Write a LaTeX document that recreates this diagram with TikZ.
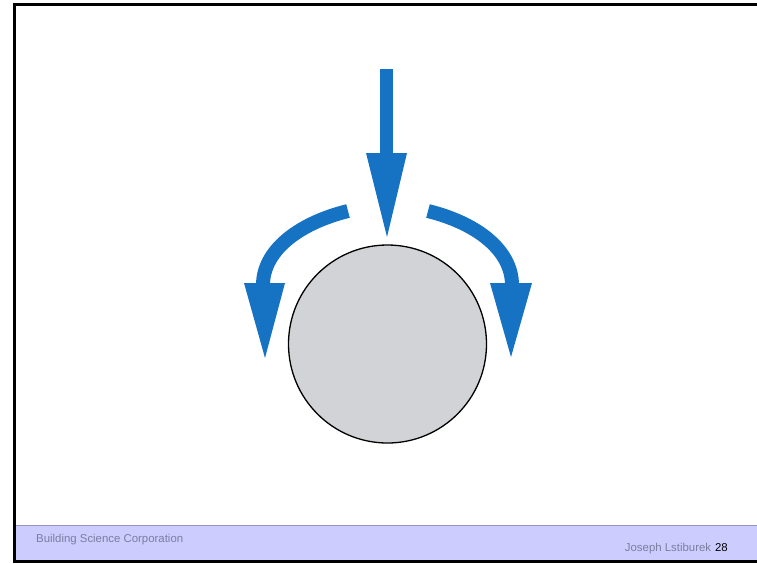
\documentclass[tikz,border=0pt]{standalone}
\usepackage{fontspec}
\setmainfont{Liberation Sans}
\definecolor{flowblue}{RGB}{22,114,194}
\definecolor{ballgray}{RGB}{209,211,214}
\definecolor{bandfill}{RGB}{204,204,255}
\definecolor{bandline}{RGB}{150,150,200}
\definecolor{foottext}{RGB}{125,125,160}
\tikzset{
  flowshaft/.style={draw=flowblue, line width=14pt, line cap=butt},
  flowhead/.style={fill=flowblue, draw=none},
  foot/.style={inner sep=0pt, font=\fontsize{11.4}{13}\selectfont, text=foottext}
}
\begin{document}
\begin{tikzpicture}[x=1pt,y=-1pt]
\useasboundingbox (0,0) rectangle (757,563);
\clip (0,0) rectangle (757,563);
\fill[white] (0,0) rectangle (757,563);
% footer band
\fill[bandfill] (14,525) rectangle (770,561);
\draw[bandline, line width=1pt] (14,525) -- (770,525);
% frame
\draw[black, line width=3pt] (770,4.5) -- (14.5,4.5) -- (14.5,561.5) -- (770,561.5);
% ball
\node[circle, minimum size=198pt, inner sep=0pt, fill=ballgray, draw=black, line width=1.3pt] (ball) at (387.5,344) {};
% central arrow
\fill[flowblue] (380,69) rectangle (393,155);
\fill[flowhead] (366,153) -- (407,153) -- (387,237) -- cycle;
% left arrow
\draw[flowshaft] (348,211) .. controls (296,224) and (263,252) .. (263,285);
\fill[flowhead] (244,283) -- (285,283) -- (265,358) -- cycle;
% right arrow
\draw[flowshaft] (428,211) .. controls (480,224) and (512,252) .. (512,285);
\fill[flowhead] (490,283) -- (532,283) -- (511,357) -- cycle;
% footer text
\node[foot, anchor=base west] (corp) at (36,542) {Building Science Corporation};
\node[foot, anchor=base east] (page) at (728,551) {Joseph Lstiburek\hspace{4pt}\textcolor{black}{28}};
\end{tikzpicture}
\end{document}
